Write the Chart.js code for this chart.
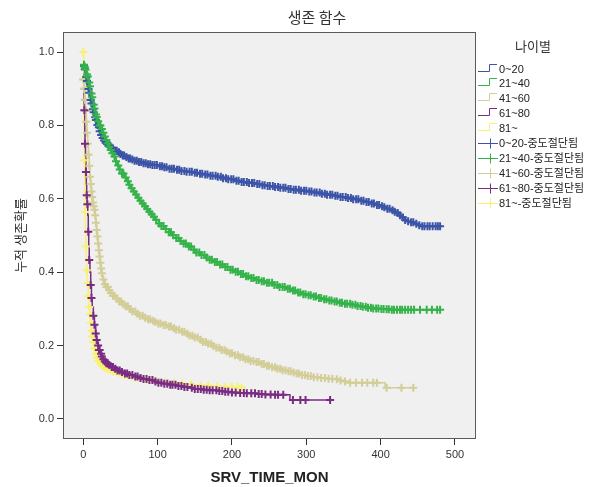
<!DOCTYPE html>
<html><head><meta charset="utf-8">
<script src="https://cdn.jsdelivr.net/npm/chart.js@4.4.1/dist/chart.umd.min.js"></script>
<style>html,body{margin:0;padding:0;background:#fff}#wrap{width:601px;height:487px}</style>
</head><body><div id="wrap"><canvas id="c" width="601" height="487"></canvas></div>
<script>
// ---- data ----
const chartTitle = '생존 함수';
const legendTitle = '나이별';
const groups = ['0~20', '21~40', '41~60', '61~80', '81~'];
const censorSuffix = '-중도절단됨';
const xTitle = 'SRV_TIME_MON';
const yTitle = '누적 생존확률';

// Kaplan-Meier step curves: [time (months), cumulative survival]
const curve0to20 = [[0,.97],[1,.962],[2,.953],[3,.943],[4,.932],[5,.921],[6,.91],[7,.899],[8,.889],[9,.878],[10,.869],[11,.86],[12,.852],[13,.844],[14,.836],[15,.829],[16,.822],[17,.815],[18,.808],[19,.801],[20,.795],[22,.784],[24,.774],[26,.766],[28,.759],[30,.753],[32,.749],[34,.745],[37,.74],[40,.735],[43,.731],[46,.727],[50,.722],[53,.718],[56,.714],[60,.71],[64,.707],[68,.704],[73,.7],[79,.697],[85,.694],[92,.692],[100,.689],[108,.686],[116,.682],[123,.679],[131,.676],[139,.674],[147,.671],[155,.668],[163,.666],[171,.663],[179,.66],[187,.656],[195,.653],[204,.649],[213,.646],[222,.643],[231,.64],[240,.637],[248,.635],[256,.632],[265,.63],[274,.627],[283,.625],[292,.622],[301,.62],[310,.617],[319,.614],[328,.611],[337,.608],[345,.605],[354,.602],[363,.599],[372,.595],[381,.591],[388,.587],[395,.583],[400,.58],[404,.577],[409,.573],[414,.569],[418,.565],[422,.561],[425,.555],[428,.549],[431,.542],[436,.539],[441,.536],[446,.532],[451,.528],[456,.525],[480,.525]];
const curve21to40 = [[0,.97],[1,.965],[2,.959],[3,.952],[4,.946],[5,.939],[6,.933],[7,.927],[8,.917],[9,.907],[10,.897],[11,.887],[12,.877],[13,.866],[14,.856],[15,.846],[16,.836],[17,.83],[18,.823],[19,.817],[20,.811],[22,.8],[24,.79],[26,.78],[28,.77],[30,.76],[32,.751],[34,.742],[36,.733],[38,.724],[40,.715],[43,.702],[46,.691],[49,.68],[52,.669],[55,.658],[58,.648],[61,.638],[64,.629],[67,.62],[70,.612],[73,.603],[76,.595],[79,.587],[82,.58],[85,.572],[88,.565],[91,.558],[94,.551],[97,.543],[101,.533],[105,.526],[110,.518],[115,.509],[120,.501],[125,.493],[130,.485],[135,.478],[140,.47],[146,.461],[152,.454],[158,.447],[164,.44],[170,.434],[176,.428],[183,.421],[191,.414],[198,.407],[205,.401],[211,.395],[218,.389],[225,.384],[231,.379],[238,.375],[245,.371],[256,.365],[264,.36],[272,.355],[280,.35],[288,.345],[296,.34],[301,.337],[308,.334],[316,.33],[323,.326],[330,.323],[338,.32],[345,.317],[352,.314],[360,.311],[368,.308],[375,.306],[383,.303],[390,.301],[398,.3],[405,.299],[413,.298],[480,.298]];
const curve41to60 = [[0,.925],[1,.9],[2,.87],[3,.84],[4,.81],[5,.78],[6,.75],[7,.72],[8,.69],[9,.66],[10,.64],[11,.62],[12,.605],[13,.59],[14,.58],[15,.57],[16,.555],[17,.535],[18,.515],[19,.497],[20,.478],[21,.46],[22,.443],[23,.426],[24,.41],[25,.397],[26,.388],[27,.38],[28,.373],[29,.367],[31,.36],[34,.351],[37,.343],[40,.336],[44,.328],[48,.32],[52,.313],[56,.307],[61,.3],[66,.293],[71,.287],[76,.281],[81,.276],[86,.272],[91,.268],[96,.264],[101,.26],[107,.256],[113,.252],[119,.247],[125,.243],[131,.238],[137,.232],[143,.227],[149,.222],[155,.216],[161,.21],[167,.205],[173,.199],[179,.194],[185,.188],[191,.184],[197,.179],[204,.174],[211,.168],[218,.163],[225,.158],[231,.155],[238,.15],[245,.145],[252,.141],[259,.137],[266,.133],[273,.13],[280,.127],[287,.124],[294,.12],[301,.117],[310,.114],[320,.112],[329,.11],[337,.108],[345,.105],[352,.102],[359,.099],[406,.085],[444,.085]];
const curve61to80 = [[0,.9],[1,.86],[1.4,.841],[2,.78],[2.3,.75],[3,.71],[3.6,.673],[4.1,.64],[4.6,.61],[5.2,.585],[6,.555],[6.7,.51],[7.3,.47],[8,.433],[9,.4],[10,.365],[11,.33],[12,.305],[13.5,.281],[15,.257],[16.7,.233],[18,.215],[19.5,.2],[21,.188],[23,.178],[25,.17],[27,.163],[29,.157],[31,.152],[34,.147],[38,.142],[42,.137],[46,.132],[51,.128],[56,.124],[62,.12],[68,.116],[74,.112],[80,.109],[87,.106],[94,.102],[101,.099],[109,.096],[117,.093],[125,.09],[133,.087],[141,.085],[150,.082],[160,.08],[170,.078],[180,.076],[191,.074],[200,.072],[210,.071],[220,.07],[232,.068],[245,.067],[258,.066],[278,.052],[334,.052]];
const curve81up = [[0,1],[0.5,.9],[1,.8],[1.5,.705],[2,.62],[2.3,.564],[2.8,.51],[3.3,.47],[4,.435],[4.6,.405],[5.5,.37],[6.7,.335],[8,.305],[9,.285],[10,.262],[11,.24],[12,.225],[13.5,.21],[15,.193],[16.5,.178],[18,.166],[20,.158],[22,.152],[25,.146],[28,.141],[31,.137],[35,.133],[40,.129],[45,.126],[50,.123],[56,.12],[63,.116],[70,.113],[78,.11],[86,.107],[94,.104],[101,.102],[112,.099],[123,.097],[134,.095],[146,.093],[158,.091],[170,.09],[181,.089],[191,.088],[202,.087],[213,.086]];

// censoring times (months)
const censor0to20 = [1,2,4,5,7,8,10,11,13,14,16,17,19,21,22,24,26,28,30,32,34,36,38,40,43,45,48,50,53,55,58,61,63,66,69,72,75,78,81,84,87,90,93,96,99,103,106,109,112,116,119,122,126,129,132,136,139,143,146,150,153,157,160,164,167,171,174,178,181,185,188,192,195,199,202,206,209,213,216,220,223,227,230,234,237,241,244,248,251,255,258,262,265,269,272,276,279,283,286,290,293,297,300,304,307,311,314,318,321,325,328,332,335,339,342,346,349,353,356,360,363,367,370,374,377,381,384,388,391,395,398,402,405,409,412,416,419,423,426,430,433,437,441,444,448,452,456,459,463,466,470,474,477,480];
const censor21to40 = [1,2,3,5,6,8,9,11,12,14,15,17,18,20,22,23,25,27,29,31,33,35,37,39,42,44,47,49,52,54,57,60,62,65,68,71,74,77,80,83,86,89,92,95,98,102,105,108,111,115,118,121,125,128,131,135,138,142,145,149,152,156,159,163,166,170,173,177,180,184,187,191,194,198,201,205,208,212,215,219,222,226,229,233,236,240,243,247,250,254,257,261,264,268,271,275,278,282,285,289,292,296,299,303,306,310,313,317,320,324,327,331,334,338,341,345,348,352,355,359,362,366,369,373,376,380,383,387,390,394,397,401,404,408,411,415,418,422,426,429,433,437,441,445,453,462,469,476,480];
const censor41to60 = [0,0.5,1,1.5,2,2.5,3,3.5,4,5,6,7,8,9,10,11,12,13,14,15,16,17,18,19,20,21,22,23,24,25,27,29,31,33,35,37,40,42,45,48,51,54,57,60,63,66,70,73,76,80,83,87,90,94,97,101,104,108,111,115,118,122,125,129,133,136,140,143,147,150,154,158,161,165,168,172,175,179,183,186,190,193,197,200,204,208,211,215,218,222,225,229,233,236,240,243,247,250,254,258,261,265,268,272,276,279,283,287,290,294,298,302,306,310,315,320,325,330,335,341,346,352,359,367,375,382,390,395,408,428,444];
const censor61to80 = [1.4,2.3,3.6,4.6,5.5,6.7,8,10,11,13.5,15,16.7,18,20,21,22,24,25,27,29,31,33,35,38,40,43,46,49,52,56,59,62,66,70,73,77,81,85,89,93,97,101,105,109,113,117,120,124,128,132,136,140,146,150,154,158,162,166,170,174,179,183,187,191,195,200,205,211,216,220,226,231,236,240,245,252,258,262,269,282,292,299,332];
const censor81up = [0,1.5,2.3,3.3,4.6,5.5,6.7,8,9,10,11,12,13.5,15,16,17,18,20,21,23,25,27,29,31,34,37,40,44,48,52,56,60,65,70,75,81,87,93,101,112,122,133,145,158,168,180,191,200,208,213];

const xTickStep = 100;
const yTickStep = 0.2;

// ---- styling ----
const colors = ['#3c54a8', '#34b34a', '#d3cd98', '#7a2c84', '#f8f270'];
const curves = [curve0to20, curve21to40, curve41to60, curve61to80, curve81up];
const censors = [censor0to20, censor21to40, censor41to60, censor61to80, censor81up];
const censorOrder = [3, 1, 4, 2, 5];

function survivalAt(curve, t) {
  let s = curve[0][1];
  for (const [x, y] of curve) { if (x <= t) s = y; else break; }
  return s;
}

const datasets = [];
groups.forEach((g, i) => {
  datasets.push({
    label: g, kind: 'line',
    data: curves[i].map(([x, y]) => ({x, y})),
    borderColor: colors[i], backgroundColor: colors[i],
    borderWidth: 1.5, stepped: true, pointRadius: 0, fill: false, order: 20 + i
  });
});
groups.forEach((g, i) => {
  datasets.push({
    label: g + censorSuffix, kind: 'censor',
    data: censors[i].map(t => ({x: t, y: survivalAt(curves[i], t)})),
    borderColor: colors[i], backgroundColor: colors[i],
    showLine: false, pointStyle: 'cross', pointRadius: 4, pointBorderWidth: 2,
    borderWidth: 2, order: censorOrder[i]
  });
});

Chart.defaults.font.family = "'Liberation Sans', 'Noto Sans CJK KR', sans-serif";

const bgPlugin = {
  id: 'plotBg',
  beforeDraw(chart) {
    const {ctx, chartArea: a} = chart;
    ctx.save();
    ctx.fillStyle = '#f0f0f0';
    ctx.fillRect(a.left, a.top, a.right - a.left, a.bottom - a.top);
    ctx.restore();
  },
  afterDraw(chart) {
    const {ctx, chartArea: a} = chart;
    ctx.save();
    ctx.strokeStyle = '#5a5a5a';
    ctx.lineWidth = 1;
    ctx.strokeRect(Math.round(a.left) + 0.5, Math.round(a.top) + 0.5, Math.round(a.right - a.left) - 1, Math.round(a.bottom - a.top) - 1);
    // chart title
    ctx.fillStyle = '#333';
    ctx.font = "15px 'Noto Sans CJK KR', 'Liberation Sans'";
    ctx.textAlign = 'center';
    ctx.textBaseline = 'middle';
    ctx.fillText(chartTitle, 317, 17);
    // legend
    ctx.font = "13px 'Noto Sans CJK KR', 'Liberation Sans'";
    ctx.fillText(legendTitle, 533, 46);
    ctx.font = "11px 'Liberation Sans', 'Noto Sans CJK KR'";
    ctx.textAlign = 'left';
    const x0 = 478, y0 = 68.5, dy = 14.9;
    chart.data.datasets.forEach((ds, i) => {
      const y = Math.round(y0 + i * dy) + 0.5;
      ctx.strokeStyle = ds.borderColor;
      ctx.lineWidth = 1;
      ctx.beginPath();
      if (ds.kind === 'line') {
        ctx.moveTo(x0, y + 2);
        ctx.lineTo(489.5, y + 2);
        ctx.lineTo(489.5, y - 5);
        ctx.lineTo(497, y - 5);
      } else {
        ctx.moveTo(x0, y);
        ctx.lineTo(498, y);
        ctx.moveTo(490.5, y - 5);
        ctx.lineTo(490.5, y + 5);
      }
      ctx.stroke();
      ctx.fillStyle = '#222';
      ctx.fillText(ds.label, 499, y);
    });
    ctx.restore();
  }
};

new Chart(document.getElementById('c'), {
  type: 'line',
  data: {datasets},
  options: {
    responsive: false, animation: false, devicePixelRatio: 1,
    events: [],
    layout: {padding: {top: 32, right: 125, left: 0, bottom: 0}},
    plugins: {legend: {display: false}, tooltip: {enabled: false}, title: {display: false}},
    scales: {
      x: {
        type: 'linear', min: -27.3, max: 528.3,
        ticks: {stepSize: xTickStep, includeBounds: false, color: '#333', font: {size: 11}, padding: 3, maxRotation: 0},
        grid: {drawOnChartArea: false, drawTicks: true, tickLength: 6, color: '#333'},
        border: {display: false},
        title: {display: true, text: xTitle, color: '#222', font: {size: 15, weight: 'bold'}, padding: {top: 0, bottom: 0}},
        afterFit(s) { s.height = 48; }
      },
      y: {
        type: 'linear', min: -0.0545, max: 1.0545,
        ticks: {stepSize: yTickStep, includeBounds: false, color: '#333', font: {size: 11}, padding: 3,
          callback: v => Number(v).toFixed(1)},
        grid: {drawOnChartArea: false, drawTicks: true, tickLength: 6, color: '#333'},
        border: {display: false},
        title: {display: true, text: yTitle, color: '#333', font: {size: 13, family: "'Noto Sans CJK KR', 'Liberation Sans'"}, padding: {top: 12, bottom: 0}},
        afterFit(s) { s.width = 63; }
      }
    }
  },
  plugins: [bgPlugin]
});
</script></body></html>
